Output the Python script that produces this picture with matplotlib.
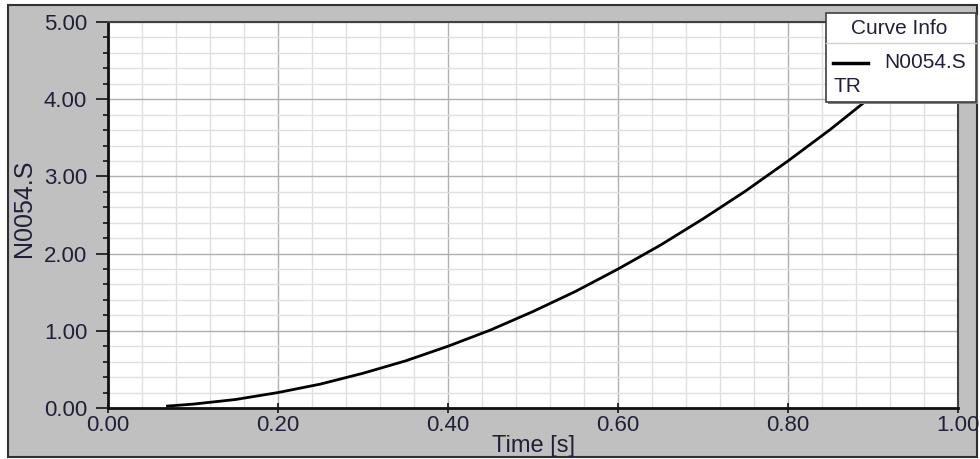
import matplotlib
matplotlib.use("Agg")
import matplotlib.pyplot as plt
from matplotlib.patches import Rectangle
from matplotlib.lines import Line2D
from matplotlib.ticker import MultipleLocator, FormatStrFormatter

# data
time_s = [0.07, 0.10, 0.15, 0.20, 0.25, 0.30, 0.35, 0.40, 0.45, 0.50,
          0.55, 0.60, 0.65, 0.70, 0.75, 0.80, 0.85, 0.90, 0.95, 1.00]
n0054_s = [0.025, 0.05, 0.11, 0.20, 0.31, 0.45, 0.61, 0.80, 1.01, 1.25,
           1.51, 1.80, 2.11, 2.45, 2.81, 3.20, 3.61, 4.05, 4.51, 5.00]
x_ticks = [0.0, 0.2, 0.4, 0.6, 0.8, 1.0]
y_ticks = [0.0, 1.0, 2.0, 3.0, 4.0, 5.0]
series_name = "N0054.S"
legend_title = "Curve Info"

W, H = 980, 459
plt.rcParams['font.family'] = ['Liberation Sans', 'DejaVu Sans']
fig = plt.figure(figsize=(W / 100, H / 100), dpi=100, facecolor='white')

def fx(px):
    return px / W

def fy(py):
    return 1 - py / H

FS = 15
TFS = 16

# gray panel with dark border
fig.patches.append(Rectangle((fx(8), fy(457)), fx(977) - fx(8), fy(5) - fy(457),
                             transform=fig.transFigure, facecolor='#c0c0c0',
                             edgecolor='#303030', linewidth=1.5, zorder=-5))

ax = fig.add_axes([fx(108), fy(408), fx(958) - fx(108), fy(22) - fy(408)])
ax.set_zorder(1)
ax.set_facecolor('white')
ax.plot(time_s, n0054_s, color='black', linewidth=2.0, zorder=3)

ax.set_xlim(0, 1.0)
ax.set_ylim(0, 5.0)
ax.set_xticks(x_ticks)
ax.set_yticks(y_ticks)
ax.xaxis.set_minor_locator(MultipleLocator(0.04))
ax.yaxis.set_minor_locator(MultipleLocator(0.2))
ax.xaxis.set_major_formatter(FormatStrFormatter('%.2f'))
ax.yaxis.set_major_formatter(FormatStrFormatter('%.2f'))

ax.grid(which='major', color='#b0b0b0', linewidth=1.0, zorder=1)
ax.grid(which='minor', color='#e0e0e0', linewidth=1.0, zorder=0.5)
ax.set_axisbelow(True)

txtc = '#20203a'
ax.tick_params(axis='y', which='major', direction='out', length=9, width=1.3,
               color='#202020', labelsize=TFS, labelcolor=txtc, pad=6)
ax.tick_params(axis='y', which='minor', direction='out', length=3.5, width=1.3,
               color='#202020')
ax.tick_params(axis='x', which='major', direction='inout', length=7, width=1.3,
               color='#202020', labelsize=TFS, labelcolor=txtc, pad=1.5)
ax.tick_params(axis='x', which='minor', length=0)

for s in ['left', 'bottom']:
    ax.spines[s].set_linewidth(2.0)
    ax.spines[s].set_color('#101010')
for s in ['top', 'right']:
    ax.spines[s].set_linewidth(1.5)
    ax.spines[s].set_color('#404040')

fig.text(fx(533), fy(446), "Time [s]", ha='center', va='center',
         fontsize=17, color=txtc)
fig.text(fx(24), fy(208), series_name, ha='center', va='center',
         rotation=90, fontsize=18, color=txtc)

# legend box
lx0, ly0, lx1, ly1 = 826, 13, 976, 102
fig.patches.append(Rectangle((fx(lx0 + 2), fy(ly1 + 2)), fx(lx1) - fx(lx0), fy(ly0) - fy(ly1),
                             transform=fig.transFigure, facecolor='#808080',
                             edgecolor='none', zorder=5))
fig.patches.append(Rectangle((fx(lx0), fy(ly1)), fx(lx1) - fx(lx0), fy(ly0) - fy(ly1),
                             transform=fig.transFigure, facecolor='white',
                             edgecolor='#404040', linewidth=1.2, zorder=6))
fig.lines.append(Line2D([fx(lx0), fx(lx1)], [fy(43), fy(43)], transform=fig.transFigure,
                        color='#d0d0d0', linewidth=1.0, zorder=7))
fig.text(fx(899), fy(28), legend_title, ha='center', va='center',
         fontsize=FS, color=txtc, zorder=8)
fig.lines.append(Line2D([fx(833), fx(868)], [fy(63), fy(63)], transform=fig.transFigure,
                        color='black', linewidth=2.5, zorder=8))
fig.text(fx(884), fy(62), series_name, ha='left', va='center',
         fontsize=FS, color=txtc, zorder=8)
fig.text(fx(833), fy(86), "TR", ha='left', va='center',
         fontsize=FS, color=txtc, zorder=8)

fig.savefig("out.png", dpi=100, facecolor='white')
